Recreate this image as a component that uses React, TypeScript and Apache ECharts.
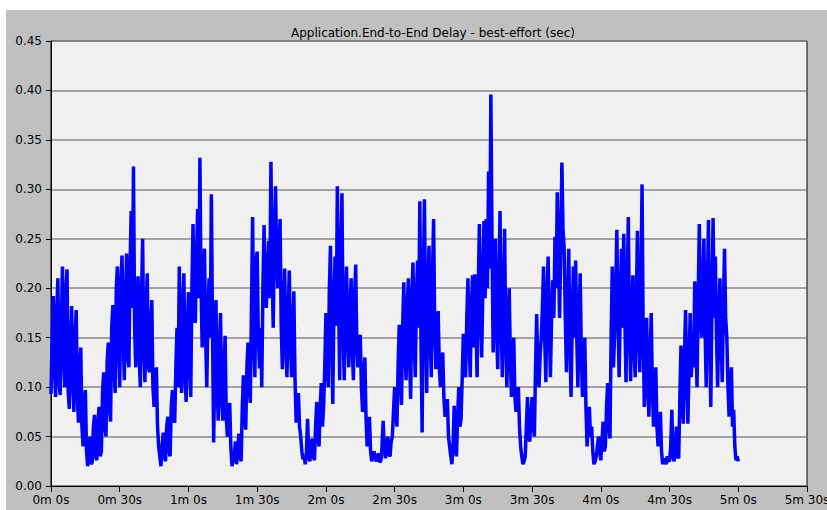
import { useEffect, useRef } from "react";
import * as echarts from "echarts";

const chartTitle = "Application.End-to-End Delay - best-effort (sec)";
const sampleStepSec = 0.5;

// End-to-end delay (sec), two samples per second
const delay0to59s = [
  0.093, 0.150, 0.192, 0.120, 0.090, 0.175, 0.210, 0.105, 0.092, 0.160, 0.222, 0.130, 0.100, 0.198, 0.219, 0.095, 0.078, 0.140, 0.182, 0.110,
  0.075, 0.150, 0.178, 0.090, 0.064, 0.120, 0.140, 0.060, 0.040, 0.085, 0.097, 0.035, 0.020, 0.030, 0.050, 0.022, 0.024, 0.060, 0.072, 0.030,
  0.026, 0.065, 0.080, 0.030, 0.035, 0.095, 0.115, 0.060, 0.050, 0.125, 0.145, 0.080, 0.065, 0.160, 0.183, 0.120, 0.094, 0.200, 0.222, 0.140,
  0.100, 0.205, 0.233, 0.150, 0.107, 0.190, 0.235, 0.130, 0.120, 0.220, 0.278, 0.180, 0.323, 0.160, 0.120, 0.180, 0.212, 0.130, 0.100, 0.190,
  0.250, 0.140, 0.105, 0.170, 0.215, 0.120, 0.115, 0.160, 0.188, 0.100, 0.080, 0.110, 0.120, 0.060, 0.040, 0.030, 0.020, 0.040, 0.054, 0.030,
  0.025, 0.060, 0.070, 0.035, 0.030, 0.080, 0.097, 0.070, 0.064, 0.120, 0.160, 0.100, 0.222, 0.140, 0.094, 0.180, 0.215, 0.110, 0.085, 0.160,
];
const delay60to119s = [
  0.196, 0.120, 0.090, 0.200, 0.265, 0.170, 0.165, 0.230, 0.280, 0.190, 0.332, 0.200, 0.140, 0.200, 0.240, 0.150, 0.100, 0.170, 0.210, 0.150,
  0.295, 0.160, 0.044, 0.120, 0.188, 0.100, 0.066, 0.140, 0.175, 0.090, 0.066, 0.120, 0.152, 0.070, 0.050, 0.070, 0.084, 0.040, 0.020, 0.026,
  0.030, 0.045, 0.022, 0.035, 0.053, 0.030, 0.025, 0.080, 0.112, 0.070, 0.057, 0.120, 0.145, 0.100, 0.084, 0.180, 0.272, 0.150, 0.110, 0.228,
  0.237, 0.150, 0.119, 0.160, 0.100, 0.200, 0.264, 0.200, 0.180, 0.220, 0.248, 0.190, 0.328, 0.220, 0.160, 0.250, 0.303, 0.230, 0.200, 0.240,
  0.270, 0.160, 0.118, 0.180, 0.220, 0.140, 0.110, 0.170, 0.218, 0.150, 0.110, 0.150, 0.197, 0.110, 0.064, 0.080, 0.094, 0.060, 0.050, 0.035,
  0.027, 0.030, 0.022, 0.035, 0.068, 0.030, 0.025, 0.040, 0.048, 0.030, 0.026, 0.060, 0.085, 0.050, 0.040, 0.080, 0.104, 0.060, 0.080, 0.120,
];
const delay120to179s = [
  0.175, 0.130, 0.100, 0.200, 0.243, 0.150, 0.083, 0.180, 0.232, 0.162, 0.303, 0.200, 0.107, 0.220, 0.296, 0.160, 0.107, 0.180, 0.222, 0.150,
  0.120, 0.180, 0.210, 0.140, 0.107, 0.190, 0.224, 0.140, 0.120, 0.140, 0.153, 0.100, 0.075, 0.110, 0.130, 0.070, 0.040, 0.055, 0.070, 0.035,
  0.025, 0.030, 0.035, 0.028, 0.025, 0.030, 0.033, 0.024, 0.026, 0.040, 0.066, 0.035, 0.028, 0.040, 0.050, 0.032, 0.030, 0.045, 0.050, 0.075,
  0.100, 0.080, 0.060, 0.120, 0.163, 0.110, 0.082, 0.160, 0.206, 0.140, 0.107, 0.180, 0.210, 0.130, 0.088, 0.190, 0.226, 0.150, 0.110, 0.190,
  0.228, 0.160, 0.288, 0.150, 0.054, 0.200, 0.290, 0.170, 0.094, 0.200, 0.243, 0.150, 0.110, 0.210, 0.270, 0.160, 0.118, 0.150, 0.177, 0.120,
  0.100, 0.120, 0.135, 0.090, 0.070, 0.080, 0.088, 0.050, 0.040, 0.030, 0.022, 0.040, 0.081, 0.040, 0.030, 0.070, 0.100, 0.060, 0.068, 0.110,
];
const delay180to239s = [
  0.154, 0.120, 0.110, 0.170, 0.210, 0.150, 0.110, 0.180, 0.213, 0.140, 0.214, 0.160, 0.110, 0.200, 0.265, 0.180, 0.130, 0.200, 0.268, 0.190,
  0.270, 0.200, 0.318, 0.220, 0.396, 0.250, 0.135, 0.190, 0.250, 0.160, 0.118, 0.200, 0.278, 0.170, 0.110, 0.190, 0.260, 0.150, 0.100, 0.160,
  0.200, 0.130, 0.090, 0.120, 0.150, 0.090, 0.075, 0.090, 0.100, 0.060, 0.040, 0.030, 0.022, 0.025, 0.030, 0.060, 0.090, 0.050, 0.045, 0.070,
  0.090, 0.060, 0.050, 0.120, 0.174, 0.120, 0.100, 0.130, 0.150, 0.180, 0.222, 0.150, 0.105, 0.190, 0.232, 0.160, 0.110, 0.170, 0.208, 0.170,
  0.252, 0.200, 0.297, 0.230, 0.170, 0.240, 0.327, 0.260, 0.240, 0.170, 0.115, 0.180, 0.240, 0.150, 0.090, 0.160, 0.222, 0.150, 0.228, 0.150,
  0.100, 0.170, 0.215, 0.130, 0.090, 0.110, 0.150, 0.080, 0.040, 0.060, 0.080, 0.050, 0.060, 0.035, 0.022, 0.025, 0.030, 0.040, 0.050, 0.035,
];
const delay240to300s = [
  0.026, 0.045, 0.065, 0.035, 0.040, 0.080, 0.104, 0.060, 0.048, 0.150, 0.222, 0.120, 0.150, 0.200, 0.259, 0.170, 0.110, 0.180, 0.240, 0.160,
  0.255, 0.170, 0.105, 0.200, 0.272, 0.160, 0.106, 0.170, 0.213, 0.140, 0.110, 0.190, 0.258, 0.150, 0.115, 0.200, 0.305, 0.150, 0.080, 0.120,
  0.170, 0.100, 0.070, 0.130, 0.175, 0.100, 0.060, 0.090, 0.120, 0.060, 0.040, 0.055, 0.075, 0.035, 0.022, 0.028, 0.025, 0.022, 0.030, 0.026,
  0.025, 0.040, 0.077, 0.030, 0.025, 0.035, 0.060, 0.030, 0.028, 0.090, 0.142, 0.090, 0.063, 0.130, 0.178, 0.110, 0.063, 0.120, 0.175, 0.110,
  0.155, 0.120, 0.207, 0.150, 0.100, 0.190, 0.265, 0.180, 0.150, 0.200, 0.250, 0.160, 0.100, 0.200, 0.269, 0.150, 0.080, 0.180, 0.271, 0.170,
  0.232, 0.150, 0.100, 0.170, 0.210, 0.150, 0.105, 0.180, 0.240, 0.170, 0.150, 0.100, 0.070, 0.100, 0.120, 0.060, 0.077, 0.040, 0.026, 0.030,
  0.025,
];

const xTickLabels = [
  "0m 0s", "0m 30s", "1m 0s", "1m 30s", "2m 0s", "2m 30s",
  "3m 0s", "3m 30s", "4m 0s", "4m 30s", "5m 0s", "5m 30s",
];
const xTickStep = 30;
const xMax = 330;
const yTickStep = 0.05;
const yMax = 0.45;

const FONT = "DejaVu Sans";

export default function App() {
  const ref = useRef<HTMLDivElement>(null);

  useEffect(() => {
    if (!ref.current) return;
    const chart = echarts.init(ref.current, null, { renderer: "svg" });
    const delays = [
      ...delay0to59s,
      ...delay60to119s,
      ...delay120to179s,
      ...delay180to239s,
      ...delay240to300s,
    ];
    const data = delays.map((v, i) => [i * sampleStepSec, v]);

    chart.setOption({
      animation: false,
      backgroundColor: "#c0c0c0",
      title: {
        text: chartTitle,
        left: 422,
        top: 12,
        textAlign: "center",
        textStyle: {
          fontFamily: FONT,
          fontSize: 12,
          fontWeight: "normal",
          color: "#000",
        },
      },
      grid: {
        left: 45,
        top: 31,
        right: 20,
        bottom: 24,
        show: true,
        backgroundColor: "#f0f0f0",
        borderColor: "#000",
        borderWidth: 1,
        containLabel: false,
        outerBoundsMode: "none",
      },
      xAxis: {
        type: "value",
        min: 0,
        max: xMax,
        interval: xTickStep,
        axisLine: { show: true, lineStyle: { color: "#000", width: 1 } },
        axisTick: { show: true, length: 6, lineStyle: { color: "#000" } },
        axisLabel: {
          color: "#000",
          fontFamily: FONT,
          fontSize: 12,
          margin: 8,
          showMinLabel: true,
          showMaxLabel: true,
          hideOverlap: false,
          formatter: (v: number) => xTickLabels[Math.round(v / xTickStep)] ?? "",
        },
        splitLine: { show: false },
      },
      yAxis: {
        type: "value",
        min: 0,
        max: yMax,
        interval: yTickStep,
        axisLine: { show: true, lineStyle: { color: "#000", width: 1 } },
        axisTick: { show: true, length: 5, lineStyle: { color: "#000" } },
        axisLabel: {
          color: "#000",
          fontFamily: FONT,
          fontSize: 12,
          margin: 9,
          formatter: (v: number) => v.toFixed(2),
        },
        splitLine: { show: true, lineStyle: { color: "#888888", width: 1.5 } },
      },
      series: [
        {
          type: "line",
          data,
          showSymbol: false,
          symbol: "none",
          lineStyle: { color: "#0000ff", width: 3.5 },
          itemStyle: { color: "#0000ff" },
        },
      ],
    });

    return () => chart.dispose();
  }, []);

  return (
    <div
      style={{
        position: "fixed",
        left: 0,
        top: 0,
        width: 827,
        height: 510,
        background: "#ffffff",
      }}
    >
      <div
        ref={ref}
        style={{ position: "absolute", left: 6, top: 10, width: 821, height: 500 }}
      />
    </div>
  );
}
